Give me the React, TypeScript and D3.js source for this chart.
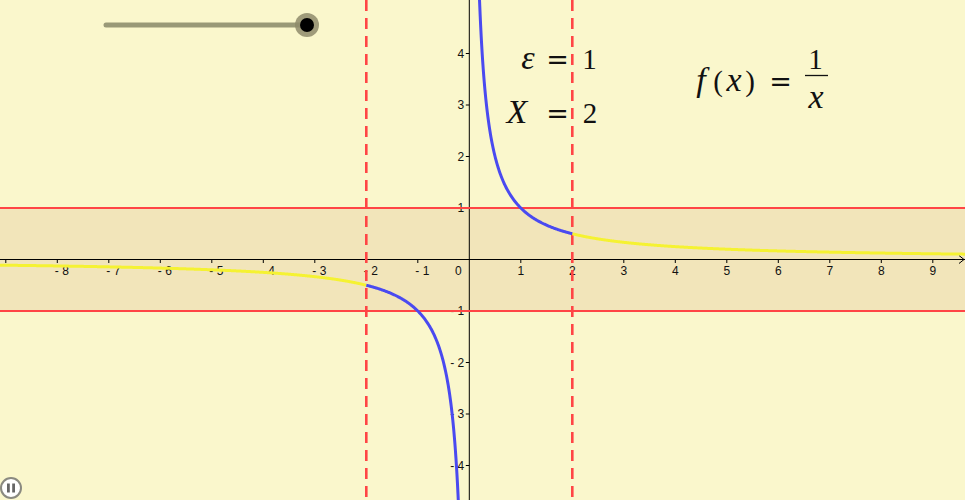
import * as d3 from "d3";

// f(x) = 1/x, parameters shown on the canvas
const epsilon = [1];
const bigX = [2];
const xTicks = [-9, -8, -7, -6, -5, -4, -3, -2, -1, 1, 2, 3, 4, 5, 6, 7, 8, 9];
const xTickLabels = [-8, -7, -6, -5, -4, -3, -2, -1, 1, 2, 3, 4, 5, 6, 7, 8, 9];
const yTicks = [-4, -3, -2, -1, 1, 2, 3, 4];

const f = (x: number) => 1 / x;

export default function App() {
  const width = 965;
  const height = 500;
  const unit = 51.5;
  const ox = 469.3;
  const oy = 259.5;

  const x = d3
    .scaleLinear()
    .domain([-ox / unit, (width - ox) / unit])
    .range([0, width]);
  const y = d3
    .scaleLinear()
    .domain([-(height - oy) / unit, oy / unit])
    .range([height, 0]);

  const eps = epsilon[0];
  const X = bigX[0];

  const line = d3
    .line<number>()
    .x((d) => x(d))
    .y((d) => y(f(d)));

  const step = 0.01;
  const [xMin, xMax] = x.domain();
  const yellowLeft = d3.range(xMin - 0.1, -X, step).concat([-X]);
  const yellowRight = [X].concat(d3.range(X + step, xMax + 0.1, step));
  const blueLeft = [-X].concat(d3.range(-X + step, -0.18, step));
  const blueRight = d3.range(0.16, X, step).concat([X]);

  const bg = "#FAF7CC";
  const band = "#F2E5BA";
  const red = "#FF4545";
  const serif = "'Liberation Serif', serif";
  const eqFont = "'DejaVu Serif', 'Liberation Serif', serif";
  const labelFont = "'Liberation Sans', Arial, sans-serif";
  const fmt = (v: number) => (v < 0 ? `- ${-v}` : `${v}`);

  // one glyph of a formula, centred on cx
  type Kind = "var" | "num" | "eq";
  const glyph = (key: string, s: string | number, cx: number, by: number, kind: Kind) => (
    <text
      key={key}
      x={cx}
      y={by}
      textAnchor="middle"
      fontFamily={kind === "eq" ? eqFont : serif}
      fontStyle={kind === "var" ? "italic" : "normal"}
      fontSize={kind === "var" ? 34 : kind === "num" ? 29 : 27}
    >
      {s}
    </text>
  );

  return (
    <svg
      width={width}
      height={height}
      style={{ position: "absolute", left: 0, top: 0 }}
    >
      <defs>
        <clipPath id="plot">
          <rect x={0} y={0} width={width} height={height} />
        </clipPath>
      </defs>
      <rect x={0} y={0} width={width} height={height} fill={bg} />

      {/* epsilon band */}
      <rect
        x={0}
        y={y(eps)}
        width={width}
        height={y(-eps) - y(eps)}
        fill={band}
      />

      {/* axes */}
      <line x1={0} x2={width} y1={y(0)} y2={y(0)} stroke="#000" strokeWidth={1} />
      <line x1={x(0)} x2={x(0)} y1={0} y2={height} stroke="#000" strokeWidth={1} />
      <path
        d={`M${width - 6},${y(0) - 4} L${width - 1},${y(0)} L${width - 6},${y(0) + 4}`}
        fill="none"
        stroke="#000"
        strokeWidth={1}
      />
      {xTicks.map((t) => (
        <line
          key={"xt" + t}
          x1={x(t)}
          x2={x(t)}
          y1={y(0)}
          y2={y(0) + 3.5}
          stroke="#000"
        />
      ))}
      {xTickLabels.map((t) => (
        <text
          key={"xl" + t}
          x={t < 0 ? x(t) - 2.5 : x(t)}
          y={y(0) + 15.5}
          textAnchor={t < 0 ? "start" : "middle"}
          fontFamily={labelFont}
          fontSize={12}
          fill="#111"
        >
          {fmt(t)}
        </text>
      ))}
      <text
        x={x(0) - 11}
        y={y(0) + 15.5}
        fontFamily={labelFont}
        fontSize={12}
        fill="#111"
        textAnchor="middle"
      >
        0
      </text>
      {yTicks.map((t) => (
        <g key={"y" + t}>
          <line x1={x(0) - 3.5} x2={x(0)} y1={y(t)} y2={y(t)} stroke="#000" />
          <text
            x={x(0) - 5}
            y={y(t) + 4}
            textAnchor="end"
            fontFamily={labelFont}
            fontSize={12}
            fill="#111"
          >
            {fmt(t)}
          </text>
        </g>
      ))}

      {/* epsilon lines */}
      {[eps, -eps].map((v) => (
        <line
          key={"h" + v}
          x1={0}
          x2={width}
          y1={y(v)}
          y2={y(v)}
          stroke={red}
          strokeWidth={2.2}
        />
      ))}
      {[-X, X].map((v) => (
        <line
          key={"v" + v}
          x1={x(v)}
          x2={x(v)}
          y1={0}
          y2={height}
          stroke={red}
          strokeWidth={2.6}
          strokeDasharray="11,7"
        />
      ))}

      {/* graph of f */}
      <g clipPath="url(#plot)" fill="none" strokeWidth={3} strokeLinejoin="round">
        <path d={line(yellowLeft) ?? ""} stroke="#F5F232" />
        <path d={line(yellowRight) ?? ""} stroke="#F5F232" />
        <path d={line(blueLeft) ?? ""} stroke="#4A4AF0" />
        <path d={line(blueRight) ?? ""} stroke="#4A4AF0" />
      </g>

      {/* formulas */}
      <g fill="#111">
        {glyph("e1", "ε", 528, 69, "var")}
        {glyph("e2", "=", 557.5, 69, "eq")}
        {glyph("e3", eps, 589.5, 69, "num")}
        {glyph("x1", "X", 517, 123, "var")}
        {glyph("x2", "=", 557.5, 123, "eq")}
        {glyph("x3", X, 590, 123, "num")}
        {glyph("f1", "f", 701, 91, "var")}
        {glyph("f2", "(", 718, 91, "num")}
        {glyph("f3", "x", 734, 91, "var")}
        {glyph("f4", ")", 750, 91, "num")}
        {glyph("f5", "=", 780.5, 91, "eq")}
        {glyph("f6", 1, 815.5, 69, "num")}
        <line x1={805} x2={828} y1={75.5} y2={75.5} stroke="#111" strokeWidth={1.3} />
        {glyph("f7", "x", 816, 108, "var")}
      </g>

      {/* slider */}
      <line
        x1={106}
        x2={307}
        y1={25}
        y2={25}
        stroke="#999977"
        strokeWidth={5}
        strokeLinecap="round"
      />
      <circle cx={307} cy={25} r={12} fill="#8E8B6B" fillOpacity={0.85} />
      <circle cx={307} cy={25} r={7} fill="#000" />

      {/* pause button */}
      <circle cx={11} cy={488} r={10} fill="#fff" stroke="#8a8a80" strokeWidth={2} />
      <rect x={7} y={483.5} width={2.8} height={9} fill="#666" />
      <rect x={12.2} y={483.5} width={2.8} height={9} fill="#666" />
    </svg>
  );
}
